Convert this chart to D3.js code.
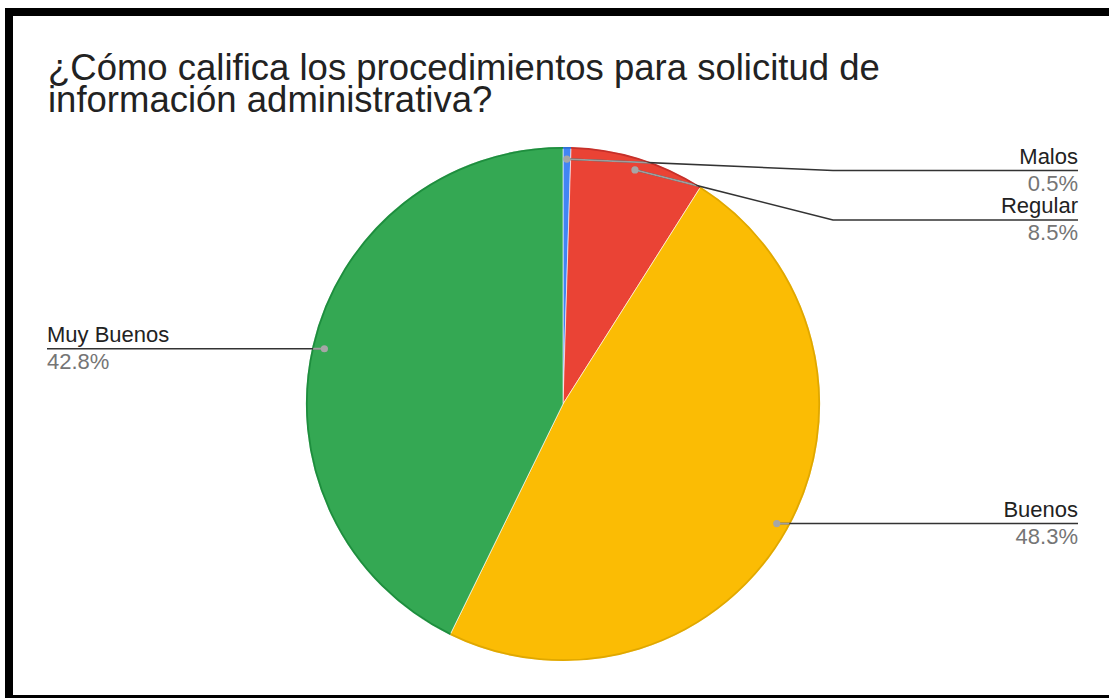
<!DOCTYPE html>
<html>
<head>
<meta charset="utf-8">
<script src="https://cdn.jsdelivr.net/npm/d3@7"></script>
<style>
  html, body { margin: 0; padding: 0; background: #fff; }
  svg { display: block; font-family: "Liberation Sans", Arial, sans-serif; }
</style>
</head>
<body>
<svg id="chart" width="1109" height="698"></svg>
<script>
// ---- data ----
const titleLines = ["¿Cómo califica los procedimientos para solicitud de", "información administrativa?"];
const categories = ["Malos", "Regular", "Buenos", "Muy Buenos"];
const values = [0.5, 8.5, 48.3, 42.8];
const percentLabels = ["0.5%", "8.5%", "48.3%", "42.8%"];
const colors = ["#4285F4", "#EA4335", "#FBBC04", "#34A853"];
const edgeColors = ["#2f6fd6", "#c5302a", "#e0a800", "#1e8e3e"];

// ---- layout ----
const W = 1109, H = 698;
const cx = 563, cy = 404, R = 257;
const dotR = 0.953 * R;
// label layout per slice: side and y of the horizontal rule
const labelLayout = [
  { side: "right", lineY: 170.5 },
  { side: "right", lineY: 220 },
  { side: "right", lineY: null },
  { side: "left",  lineY: null }
];
const rightX = 1078, elbowX = 833, leftX = 47;

const svg = d3.select("#chart");

// frame
svg.append("rect").attr("x", 5).attr("y", 8).attr("width", W).attr("height", H).attr("fill", "#000");
svg.append("rect").attr("x", 13).attr("y", 16).attr("width", W).attr("height", 679).attr("fill", "#fff");

// title
const title = svg.append("text").attr("x", 48).attr("y", 80)
  .attr("font-size", 36.5).attr("fill", "#222");
titleLines.forEach((t, i) => {
  title.append("tspan").attr("x", 48).attr("y", 80 + i * 32).text(t);
});

// pie
const pie = d3.pie().sort(null).value(d => d)(values);
const arc = d3.arc().innerRadius(0).outerRadius(R);
const rim = d3.arc().innerRadius(R - 0.8).outerRadius(R - 0.8);
const g = svg.append("g").attr("transform", `translate(${cx},${cy})`);

g.selectAll("path.slice").data(pie).join("path")
  .attr("class", "slice")
  .attr("d", arc)
  .attr("fill", (d, i) => colors[i])
  .attr("stroke", "#fff").attr("stroke-width", 0.6);

g.selectAll("path.rim").data(pie).join("path")
  .attr("class", "rim")
  .attr("d", rim)
  .attr("fill", "none")
  .attr("stroke", (d, i) => edgeColors[i]).attr("stroke-width", 1.8);

// leader lines
const defs = svg.append("defs");
defs.append("clipPath").attr("id", "pieClip")
  .append("circle").attr("cx", cx).attr("cy", cy).attr("r", R - 1);

const leaders = pie.map((d, i) => {
  const a = (d.startAngle + d.endAngle) / 2;
  const px = cx + dotR * Math.sin(a), py = cy - dotR * Math.cos(a);
  const L = labelLayout[i];
  const ly = L.lineY == null ? py : L.lineY;
  let pts;
  if (L.side === "right") {
    pts = L.lineY == null ? [[px, py], [rightX, ly]] : [[px, py], [elbowX, ly], [rightX, ly]];
  } else {
    pts = [[px, py], [leftX, ly]];
  }
  return { pts, ly, side: L.side, i };
});
const line = d3.line();
svg.append("g").selectAll("path").data(leaders).join("path")
  .attr("d", d => line(d.pts)).attr("fill", "none")
  .attr("stroke", "#333").attr("stroke-width", 1.6);
svg.append("g").attr("clip-path", "url(#pieClip)").selectAll("path").data(leaders).join("path")
  .attr("d", d => line(d.pts)).attr("fill", "none")
  .attr("stroke", "#9e9e9e").attr("stroke-width", 1.8);
svg.append("g").selectAll("circle").data(leaders).join("circle")
  .attr("cx", d => d.pts[0][0]).attr("cy", d => d.pts[0][1]).attr("r", 3.6)
  .attr("fill", "#a6a6a6");

// labels
const lab = svg.append("g");
leaders.forEach(d => {
  const x = d.side === "right" ? rightX : leftX;
  const anchor = d.side === "right" ? "end" : "start";
  lab.append("text").attr("x", x).attr("y", d.ly - 7).attr("text-anchor", anchor)
    .attr("font-size", 22).attr("fill", "#222").text(categories[d.i]);
  lab.append("text").attr("x", x).attr("y", d.ly + 20).attr("text-anchor", anchor)
    .attr("font-size", 22).attr("fill", "#757575").text(percentLabels[d.i]);
});
</script>
</body>
</html>
